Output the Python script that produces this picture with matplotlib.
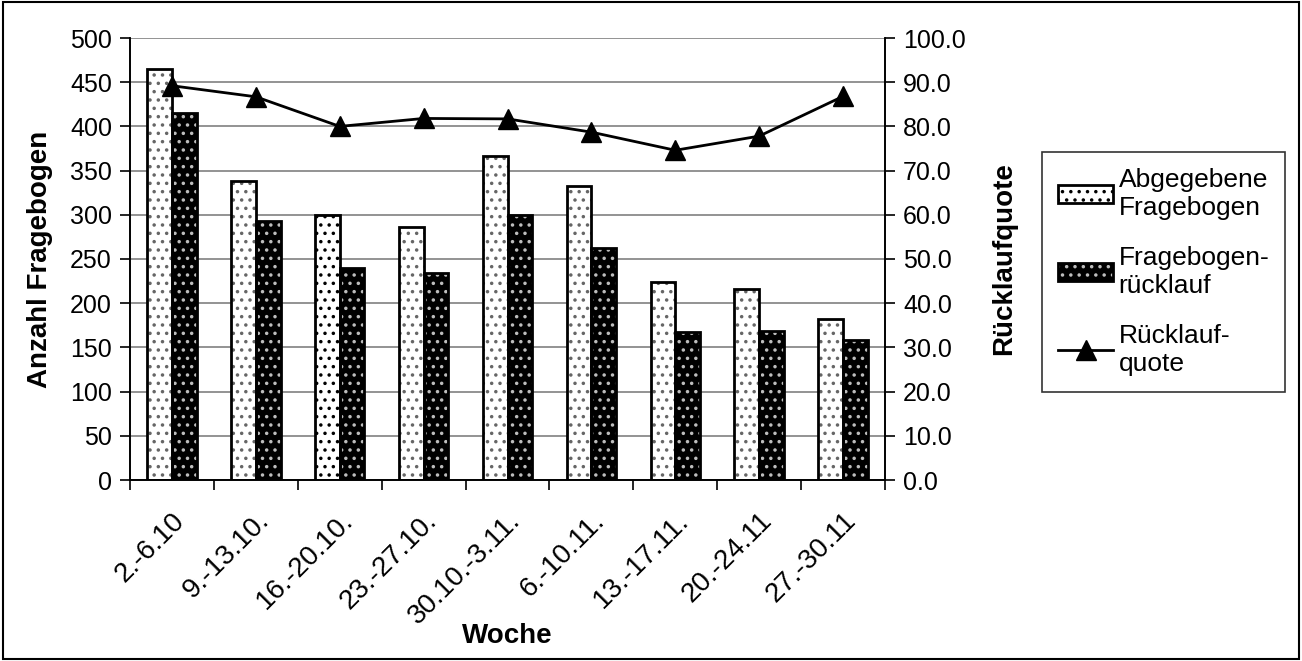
import numpy as np
import matplotlib.pyplot as plt
import matplotlib.transforms as mtransforms
from matplotlib.patches import Rectangle
from matplotlib.lines import Line2D

plt.rcParams['font.family'] = ['Liberation Sans', 'DejaVu Sans']
plt.rcParams['hatch.linewidth'] = 1.3

# Data
wochen = ["2.-6.10", "9.-13.10.", "16.-20.10.", "23.-27.10.", "30.10.-3.11.",
          "6.-10.11.", "13.-17.11.", "20.-24.11", "27.-30.11"]
abgegeben = [465, 338, 300, 286, 367, 333, 224, 216, 182]
ruecklauf = [415, 293, 240, 234, 300, 262, 167, 168, 158]
quote = [89.2, 86.7, 80.0, 81.8, 81.7, 78.7, 74.6, 77.8, 86.8]

LIGHT_DOT = '#666666'
DARK_DOT = '#bdbdbd'

fig = plt.figure(figsize=(13.02, 6.61), dpi=100)
ax = fig.add_axes([130/1302, 1 - 480/661, 755/1302, 442/661])
ax2 = ax.twinx()

x = np.arange(len(wochen))
w = 0.295

# light bars: white with grey dots (third one with black dots)
for i, v in enumerate(abgegeben):
    hc = 'black' if i == 2 else LIGHT_DOT
    ax.bar(x[i] - w/2, v, w, color='white', hatch='..', edgecolor=hc, linewidth=0, zorder=2)
ax.bar(x - w/2, abgegeben, w, fill=False, edgecolor='black', linewidth=2, zorder=3)
# dark bars: black with light dots
ax.bar(x + w/2, ruecklauf, w, color='black', hatch='..', edgecolor=DARK_DOT, linewidth=0, zorder=2)
ax.bar(x + w/2, ruecklauf, w, fill=False, edgecolor='black', linewidth=2, zorder=3)

ax2.plot(x, quote, color='black', lw=2, marker='^', ms=14, zorder=4)

ax.set_xlim(-0.5, len(wochen) - 0.5)
ax.set_ylim(0, 500)
ax.set_yticks(range(0, 501, 50))
ax2.set_ylim(0, 100)
ax2.set_yticks(range(0, 101, 10))
ax2.set_yticklabels([f"{v:.1f}" for v in range(0, 101, 10)])

ax.yaxis.grid(True, color='#808080', lw=1.2, zorder=0)
ax.set_axisbelow(True)

ax.set_xticks(np.arange(-0.5, len(wochen), 1.0))
ax.set_xticklabels([])
ax.set_xticks(x, minor=True)
ax.set_xticklabels(wochen, minor=True, rotation=45, ha='right', rotation_mode='anchor', fontsize=20)
shift = mtransforms.ScaledTranslation(-12/100, 0, fig.dpi_scale_trans)
for lbl in ax.get_xticklabels(minor=True):
    lbl.set_transform(lbl.get_transform() + shift)
ax.tick_params(axis='x', which='minor', length=0, pad=20)
ax.tick_params(axis='x', which='major', length=7, width=1.2, direction='out')
ax.tick_params(axis='y', labelsize=18, length=7, width=1.2, direction='out', pad=6)
ax2.tick_params(axis='y', labelsize=18, length=7, width=1.2, direction='out', pad=6)

for a in (ax, ax2):
    a.spines['top'].set_visible(False)
    for s in ('left', 'right', 'bottom'):
        a.spines[s].set_linewidth(1.2)

ax.set_ylabel("Anzahl Fragebogen", fontsize=20, fontweight='bold', labelpad=12)
ax2.set_ylabel("Rücklaufquote", fontsize=20, fontweight='bold', labelpad=18)
ax.set_xlabel("Woche", fontsize=20, fontweight='bold')
ax.xaxis.set_label_coords(0.5, -(636 - 480) / 442, transform=ax.transAxes)
ax.xaxis.label.set_va('center')

# legend
h1 = (Rectangle((0, 0), 1, 1, facecolor='white', hatch='..', edgecolor='black', lw=0),
      Rectangle((0, 0), 1, 1, fill=False, edgecolor='black', lw=2))
h2 = (Rectangle((0, 0), 1, 1, facecolor='black', hatch='..', edgecolor=DARK_DOT, lw=0),
      Rectangle((0, 0), 1, 1, fill=False, edgecolor='black', lw=2))
h3 = Line2D([], [], color='black', lw=2, marker='^', ms=14)
leg = fig.legend([h1, h2, h3],
                 ["Abgegebene\nFragebogen", "Fragebogen-\nrücklauf", "Rücklauf-\nquote"],
                 loc='upper left', bbox_to_anchor=(1042/1302, 1 - 152/661),
                 fontsize=19, frameon=True, fancybox=False, edgecolor='black',
                 handlelength=2.1, handletextpad=0.2, labelspacing=1.0,
                 borderpad=0.6, borderaxespad=0)
leg.get_frame().set_linewidth(1.2)

# outer border
fig.patches.append(Rectangle((0.002, 0.003), 0.996, 0.994, transform=fig.transFigure,
                             fill=False, edgecolor='black', lw=1.5))

fig.savefig("out.png", dpi=100)
